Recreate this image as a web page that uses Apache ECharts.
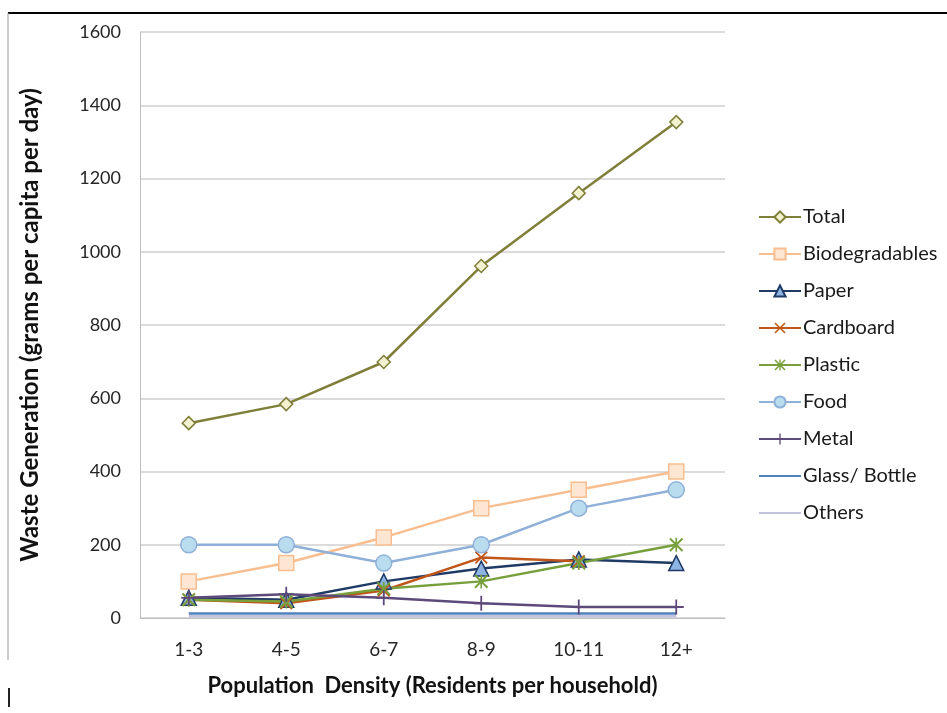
<!DOCTYPE html>
<html>
<head>
<meta charset="utf-8">
<script src="https://cdn.jsdelivr.net/npm/echarts@6/dist/echarts.min.js"></script>
<style>
  html, body { margin: 0; padding: 0; background: #ffffff; }
  #chart { width: 947px; height: 713px; }
</style>
</head>
<body>
<div id="chart"></div>
<script>
// Household size groups (residents per household)
const categories = ['1-3', '4-5', '6-7', '8-9', '10-11', '12+'];

// Waste generation, grams per capita per day
const total          = [532, 584, 699, 961, 1160, 1354];
const biodegradables = [100, 150, 220, 300, 350, 400];
const paper          = [55, 50, 100, 135, 160, 150];
const cardboard      = [50, 40, 75, 165, 155, null];
const plastic        = [50, 45, 80, 100, 150, 200];
const food           = [200, 200, 150, 200, 300, 350];
const metal          = [55, 65, 55, 40, 30, 30];
const glassBottle    = [12, 12, 12, 12, 12, 12];
const others         = [5, 5, 5, 5, 5, 5];

const yTicks = { min: 0, max: 1600, interval: 200 };

// Marker shapes
const crossPath = 'path://M0,1L1,0L5,4L9,0L10,1L6,5L10,9L9,10L5,6L1,10L0,9L4,5Z';
const starPath = 'path://M0,1L1,0L5,4L9,0L10,1L6,5L10,9L9,10L5,6L1,10L0,9L4,5Z M4.4,0H5.6V10H4.4Z';
const plusPath = 'path://M4.4,0H5.6V4.4H10V5.6H5.6V10H4.4V5.6H0V4.4H4.4Z';

function lineSeries(name, data, color, symbol, size, fill, plain) {
  return {
    name: name,
    type: 'line',
    data: data,
    symbol: symbol,
    symbolSize: size,
    showSymbol: !plain,
    connectNulls: false,
    lineStyle: { color: color, width: 2.5 },
    itemStyle: { color: fill, borderColor: color, borderWidth: symbol.indexOf('path') === 0 ? 0 : 1.5 },
    emphasis: { disabled: true },
    animation: false
  };
}

const chart = echarts.init(document.getElementById('chart'));

chart.setOption({
  animation: false,
  backgroundColor: '#ffffff',
  textStyle: { fontFamily: 'Lato, "Open Sans", sans-serif' },
  grid: { left: 140, right: 222, top: 32, bottom: 95, containLabel: false },
  legend: {
    orient: 'vertical',
    left: 753,
    top: 202,
    itemWidth: 42,
    itemHeight: 14,
    itemGap: 17,
    textStyle: { fontSize: 20, color: '#1a1a1a', fontFamily: 'Lato, "Open Sans", sans-serif', padding: [0, 0, 0, -3] },
    data: [
      'Total', 'Biodegradables', 'Paper', 'Cardboard', 'Plastic', 'Food', 'Metal',
      { name: 'Glass/ Bottle', itemStyle: { opacity: 0 } },
      { name: 'Others', itemStyle: { opacity: 0 } }
    ]
  },
  xAxis: {
    type: 'category',
    data: categories,
    boundaryGap: true,
    name: 'Population  Density (Residents per household)',
    nameLocation: 'middle',
    nameGap: 57,
    nameTextStyle: { fontSize: 22, fontWeight: 'bold', color: '#111' },
    axisLine: { lineStyle: { color: '#bfbfbf', width: 1 } },
    axisTick: { show: false },
    axisLabel: { fontSize: 19, color: '#262626', margin: 22 },
    splitLine: { show: false }
  },
  yAxis: {
    type: 'value',
    min: yTicks.min,
    max: yTicks.max,
    interval: yTicks.interval,
    name: 'Waste Generation (grams per capita per day)',
    nameLocation: 'middle',
    nameGap: 98,
    nameTextStyle: { fontSize: 24, fontWeight: 'bold', color: '#111' },
    axisLine: { show: true, lineStyle: { color: '#bfbfbf', width: 1 } },
    axisTick: { show: false },
    axisLabel: { fontSize: 18, color: '#262626', margin: 19, formatter: function (v) { return String(v); } },
    splitLine: { lineStyle: { color: '#cfcfcf', width: 1.5 } }
  },
  graphic: [
    { type: 'line', shape: { x1: 8, y1: 13, x2: 947, y2: 13 }, style: { stroke: '#000', lineWidth: 2 }, silent: true },
    { type: 'line', shape: { x1: 8, y1: 13, x2: 8, y2: 660 }, style: { stroke: '#9a9a9a', lineWidth: 1 }, silent: true },
    { type: 'line', shape: { x1: 9, y1: 688, x2: 9, y2: 707 }, style: { stroke: '#222', lineWidth: 2 }, silent: true }
  ],
  series: [
    lineSeries('Total', total, '#7f7f3a', 'diamond', 13, '#f2f2d0'),
    lineSeries('Biodegradables', biodegradables, '#f9be8f', 'rect', 15, '#fde6d2'),
    lineSeries('Paper', paper, '#1f3a64', 'triangle', 15, '#8db4e2'),
    lineSeries('Cardboard', cardboard, '#c0561a', crossPath, 13, '#c0561a'),
    lineSeries('Plastic', plastic, '#77a03c', starPath, 14, '#77a03c'),
    lineSeries('Food', food, '#8fb0d8', 'circle', 16, '#b9dcee'),
    lineSeries('Metal', metal, '#5d4a7a', plusPath, 15, '#5d4a7a'),
    lineSeries('Glass/ Bottle', glassBottle, '#4f81bd', 'circle', 6, '#4f81bd', true),
    lineSeries('Others', others, '#c3c3de', 'circle', 6, '#c3c3de', true)
  ]
});
</script>
</body>
</html>
